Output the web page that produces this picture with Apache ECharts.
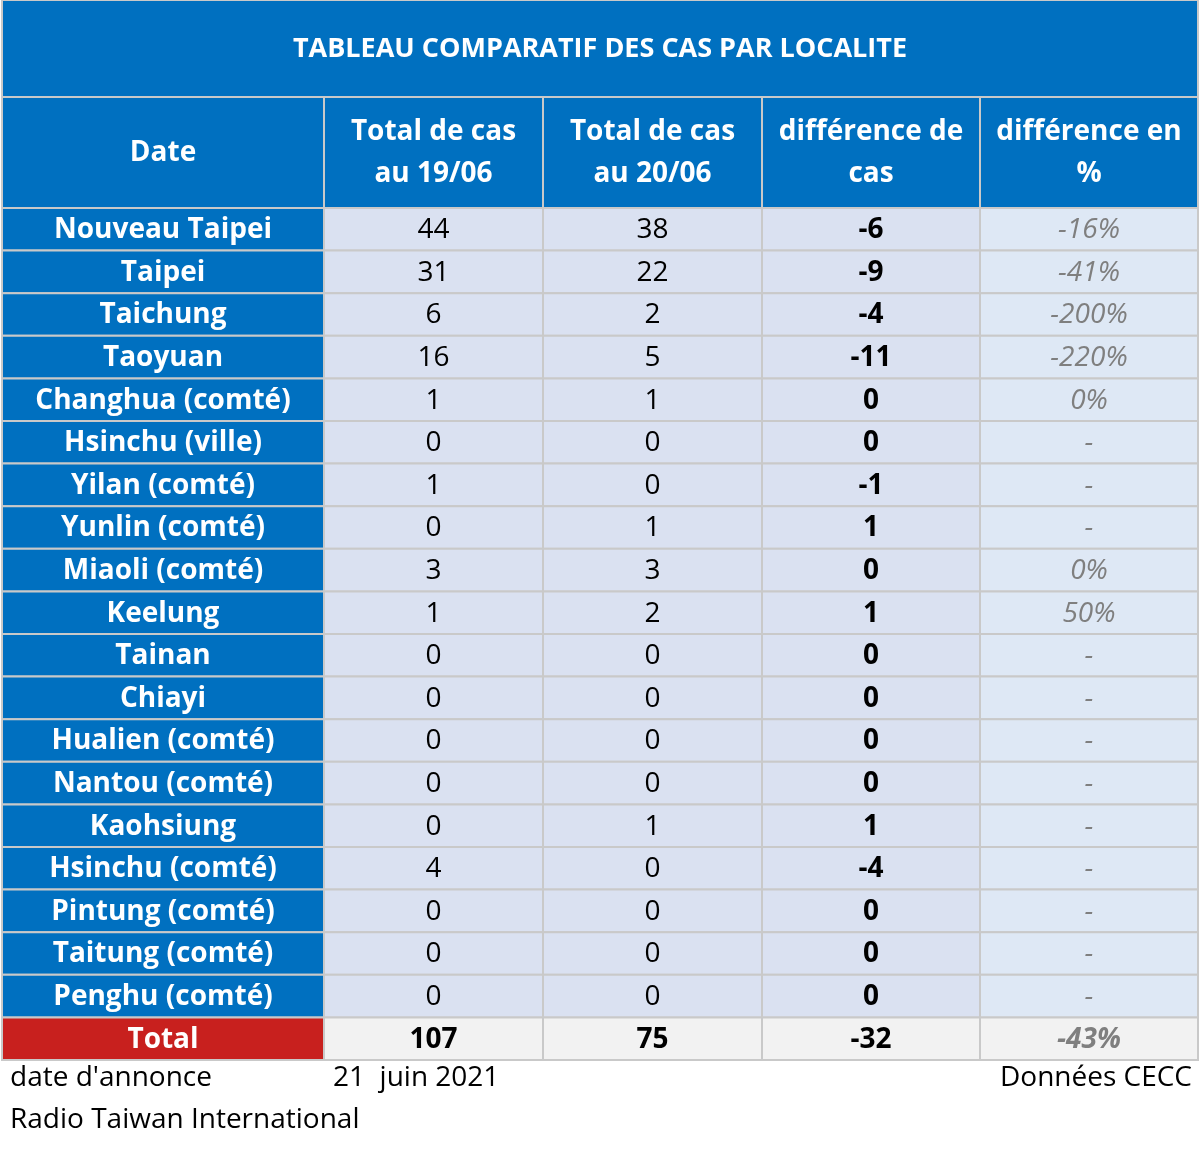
<!DOCTYPE html>
<html><head><meta charset="utf-8">
<script src="https://cdn.jsdelivr.net/npm/echarts@6/dist/echarts.min.js"></script>
<style>html,body{margin:0;background:#fff}#c{width:1200px;height:1149px}</style>
</head><body><div id="c"></div>
<script>
const title = 'TABLEAU COMPARATIF DES CAS PAR LOCALITE'
const headers = ['Date', 'Total de cas\nau 19/06', 'Total de cas\nau 20/06', 'différence de\ncas', 'différence en\n%']
const localites = ['Nouveau Taipei', 'Taipei', 'Taichung', 'Taoyuan', 'Changhua (comté)', 'Hsinchu (ville)',
  'Yilan (comté)', 'Yunlin (comté)', 'Miaoli (comté)', 'Keelung', 'Tainan', 'Chiayi', 'Hualien (comté)',
  'Nantou (comté)', 'Kaohsiung', 'Hsinchu (comté)', 'Pintung (comté)', 'Taitung (comté)', 'Penghu (comté)']
const cas19 = [44, 31, 6, 16, 1, 0, 1, 0, 3, 1, 0, 0, 0, 0, 0, 4, 0, 0, 0]
const cas20 = [38, 22, 2, 5, 1, 0, 0, 1, 3, 2, 0, 0, 0, 0, 1, 0, 0, 0, 0]
const diff = [-6, -9, -4, -11, 0, 0, -1, 1, 0, 1, 0, 0, 0, 0, 1, -4, 0, 0, 0]
const pct = ['-16%', '-41%', '-200%', '-220%', '0%', '-', '-', '-', '0%', '50%', '-', '-', '-', '-', '-', '-', '-', '-', '-']
const total = ['Total', '107', '75', '-32', '-43%']
const footLeft = "date d'annonce", footDate = '21  juin 2021', footRight = 'Données CECC', footSource = 'Radio Taiwan International'

// layout (pixels of the table area)
const colEdges = [0, 322, 541, 760, 978, 1196]
const titleH = 97, headH = 111, rowH = 42.6
const font = '"Open Sans", "Noto Sans", sans-serif'

const cells = []
cells.push({ value: [0, -2], txt: title, kind: 'title' })
headers.forEach((h, c) => cells.push({ value: [c, -1], txt: h, kind: 'head' }))
localites.forEach((name, r) => {
  cells.push({ value: [0, r], txt: name, kind: 'name' })
  cells.push({ value: [1, r], txt: String(cas19[r]), kind: 'num' })
  cells.push({ value: [2, r], txt: String(cas20[r]), kind: 'num' })
  cells.push({ value: [3, r], txt: String(diff[r]), kind: 'diff' })
  cells.push({ value: [4, r], txt: pct[r], kind: 'pct' })
})
total.forEach((t, c) => cells.push({ value: [c, localites.length], txt: t, kind: c === 0 ? 'totname' : (c === 4 ? 'totpct' : 'tot') }))

function rowTop(r) {
  if (r === -2) return 0
  if (r === -1) return titleH
  return titleH + headH + r * rowH
}
function rowHeight(r) { return r === -2 ? titleH : r === -1 ? headH : rowH }

const styleOf = {
  title: { fill: '#0070C0', color: '#fff', weight: 'bold', size: 27, italic: false },
  head: { fill: '#0070C0', color: '#fff', weight: 'bold', size: 28 },
  name: { fill: '#0070C0', color: '#fff', weight: 'bold', size: 28 },
  num: { fill: '#DAE1F1', color: '#000', weight: 'normal', size: 28 },
  diff: { fill: '#DAE1F1', color: '#000', weight: 'bold', size: 28 },
  pct: { fill: '#DEE8F5', color: '#7f7f7f', weight: 'normal', size: 28, italic: true },
  totname: { fill: '#C8201E', color: '#fff', weight: 'bold', size: 28 },
  tot: { fill: '#F2F2F2', color: '#000', weight: 'bold', size: 28 },
  totpct: { fill: '#F2F2F2', color: '#7f7f7f', weight: 'bold', size: 28, italic: true }
}

const chart = echarts.init(document.getElementById('c'))
chart.setOption({
  animation: false,
  grid: { left: 2, right: 2, top: 0, bottom: 90 },
  xAxis: { type: 'value', min: 0, max: 1196, show: false },
  yAxis: { type: 'value', min: 0, max: 1059, inverse: true, show: false },
  series: [{
    type: 'custom',
    data: cells,
    renderItem: (params, api) => {
      const d = cells[params.dataIndex]
      const c = d.value[0], r = d.value[1]
      const x0 = d.kind === 'title' ? 0 : colEdges[c]
      const x1 = d.kind === 'title' ? colEdges[5] : colEdges[c + 1]
      const p0 = api.coord([x0, rowTop(r)])
      const p1 = api.coord([x1, rowTop(r) + rowHeight(r)])
      const s = styleOf[d.kind]
      return {
        type: 'group',
        children: [{
          type: 'rect',
          shape: { x: p0[0], y: p0[1], width: p1[0] - p0[0], height: p1[1] - p0[1] },
          style: { fill: s.fill, stroke: '#c9c9c9', lineWidth: 2 }
        }, {
          type: 'text',
          style: {
            x: (p0[0] + p1[0]) / 2, y: (p0[1] + p1[1]) / 2 + 1,
            text: d.txt, align: 'center', verticalAlign: 'middle',
            fill: s.color, fontSize: s.size, fontWeight: s.weight,
            fontStyle: s.italic ? 'italic' : 'normal', fontFamily: font, lineHeight: 42
          }
        }]
      }
    }
  }],
  graphic: [
    { type: 'text', left: 10, top: 1064, style: { text: footLeft, fontSize: 28, fontFamily: font, fill: '#000' } },
    { type: 'text', left: 333, top: 1064, style: { text: footDate, fontSize: 28, fontFamily: font, fill: '#000' } },
    { type: 'text', right: 8, top: 1064, style: { text: footRight, fontSize: 28, fontFamily: font, fill: '#000' } },
    { type: 'text', left: 10, top: 1106, style: { text: footSource, fontSize: 28, fontFamily: font, fill: '#000' } }
  ]
})
</script></body></html>
